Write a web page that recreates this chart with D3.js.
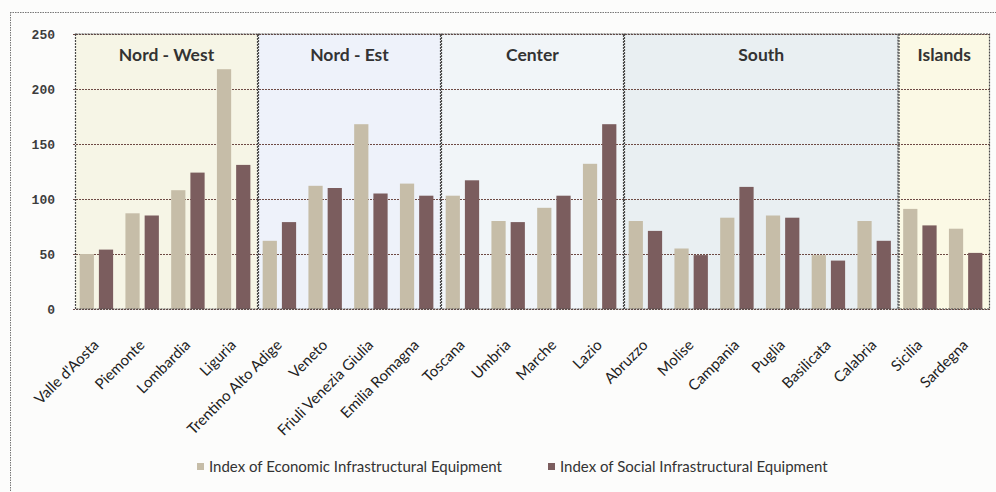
<!DOCTYPE html>
<html>
<head>
<meta charset="utf-8">
<script src="https://cdn.jsdelivr.net/npm/d3@7/dist/d3.min.js"></script>
<style>
  html, body { margin: 0; padding: 0; background: #fcfcfb; }
  svg { display: block; }
</style>
</head>
<body>
<svg id="chart" width="996" height="492"></svg>
<script>
// Italian regions, in macro-area order
const regions = [
  "Valle d'Aosta", "Piemonte", "Lombardia", "Liguria",
  "Trentino Alto Adige", "Veneto", "Friuli Venezia Giulia", "Emilia Romagna",
  "Toscana", "Umbria", "Marche", "Lazio",
  "Abruzzo", "Molise", "Campania", "Puglia", "Basilicata", "Calabria",
  "Sicilia", "Sardegna"
];

// Index of Economic Infrastructural Equipment
const economicIndex = [
  50, 87, 108, 218,
  62, 112, 168, 114,
  103, 80, 92, 132,
  80, 55, 83, 85, 49, 80,
  91, 73
];

// Index of Social Infrastructural Equipment
const socialIndex = [
  54, 85, 124, 131,
  79, 110, 105, 103,
  117, 79, 103, 168,
  71, 49, 111, 83, 44, 62,
  76, 51
];

// Macro-areas: name, first region index, number of regions
const areaNames = ["Nord - West", "Nord - Est", "Center", "South", "Islands"];
const areaStarts = [0, 4, 8, 12, 18];
const areaSizes = [4, 4, 4, 6, 2];
const areaFills = ["#f6f5e6", "#eef2fa", "#f1f5f8", "#e9eff2", "#fbf9e5"];

const yTicks = [0, 50, 100, 150, 200, 250];
const seriesNames = ["Index of Economic Infrastructural Equipment", "Index of Social Infrastructural Equipment"];
const seriesColors = ["#c6bda8", "#7b5d5e"];

const svg = d3.select("#chart");

// outer chart frame (dotted)
svg.append("line").attr("x1", 10).attr("x2", 996).attr("y1", 12.5).attr("y2", 12.5)
  .attr("stroke", "#777").attr("stroke-dasharray", "1.5,1");
svg.append("line").attr("x1", 10.5).attr("x2", 10.5).attr("y1", 12).attr("y2", 492)
  .attr("stroke", "#777").attr("stroke-dasharray", "1.5,1");

const x = d3.scaleBand().domain(regions).range([75, 990]).padding(0);
const y = d3.scaleLinear().domain([0, 250]).range([309, 34]);
const inner = d3.scaleBand().domain([0, 1]).range([0, x.bandwidth()])
  .paddingInner(0.26).paddingOuter(0.32).align(0.38);

// macro-area panels
const areas = areaNames.map((name, i) => ({
  name,
  x0: x(regions[areaStarts[i]]),
  x1: x(regions[areaStarts[i] + areaSizes[i] - 1]) + x.bandwidth(),
  fill: areaFills[i]
}));

svg.append("g").selectAll("rect").data(areas).join("rect")
  .attr("x", d => d.x0 + 0.5)
  .attr("y", y(250))
  .attr("width", d => d.x1 - d.x0 - 1)
  .attr("height", y(0) - y(250))
  .attr("fill", d => d.fill);

// horizontal gridlines
svg.append("g").selectAll("line").data(yTicks).join("line")
  .attr("x1", 73).attr("x2", 990)
  .attr("y1", d => Math.round(y(d)) + 0.5).attr("y2", d => Math.round(y(d)) + 0.5)
  .attr("stroke", "#6e4a44").attr("stroke-width", 1).attr("stroke-dasharray", "2,1");

// y-axis labels
svg.append("g").selectAll("text").data(yTicks).join("text")
  .attr("x", 55).attr("y", d => y(d) + 4.5)
  .attr("text-anchor", "end")
  .attr("font-family", "Liberation Mono, DejaVu Sans Mono, monospace")
  .attr("font-weight", "bold").attr("font-size", 13)
  .attr("fill", "#3d3d3d")
  .text(d => d);

// bars
const barsG = svg.append("g");
[economicIndex, socialIndex].forEach((vals, s) => {
  barsG.append("g").selectAll("rect").data(vals).join("rect")
    .attr("x", (d, i) => x(regions[i]) + inner(s))
    .attr("y", d => y(d))
    .attr("width", inner.bandwidth())
    .attr("height", d => y(0) - y(d))
    .attr("fill", seriesColors[s]);
});

// panel borders
svg.append("g").selectAll("rect").data(areas).join("rect")
  .attr("x", d => d.x0 + 0.5)
  .attr("y", y(250))
  .attr("width", d => d.x1 - d.x0 - 1)
  .attr("height", y(0) - y(250))
  .attr("fill", "none")
  .attr("stroke", "#4a4a4a").attr("stroke-width", 1.2).attr("stroke-dasharray", "2,1");

// panel titles
svg.append("g").selectAll("text").data(areas).join("text")
  .attr("x", d => (d.x0 + d.x1) / 2)
  .attr("y", 61)
  .attr("text-anchor", "middle")
  .attr("font-family", "Lato, Open Sans, sans-serif")
  .attr("font-weight", "bold").attr("font-size", 17.5)
  .attr("fill", "#333")
  .text(d => d.name);

// rotated region labels
svg.append("g").selectAll("text").data(regions).join("text")
  .attr("transform", d => `translate(${x(d) + x.bandwidth() / 2 + 2},${346}) rotate(-45)`)
  .attr("text-anchor", "end")
  .attr("font-family", "Lato, Open Sans, sans-serif")
  .attr("font-size", 15)
  .attr("fill", "#222")
  .text(d => d);

// legend
const legendX = [197, 548];
const legend = svg.append("g").selectAll("g").data(seriesNames).join("g")
  .attr("transform", (d, i) => `translate(${legendX[i]},463)`);
legend.append("rect").attr("width", 7).attr("height", 7).attr("fill", (d, i) => seriesColors[i]);
legend.append("text")
  .attr("x", 12).attr("y", 9)
  .attr("font-family", "Lato, Open Sans, sans-serif")
  .attr("font-size", 15)
  .attr("fill", "#333")
  .text(d => d);
</script>
</body>
</html>
